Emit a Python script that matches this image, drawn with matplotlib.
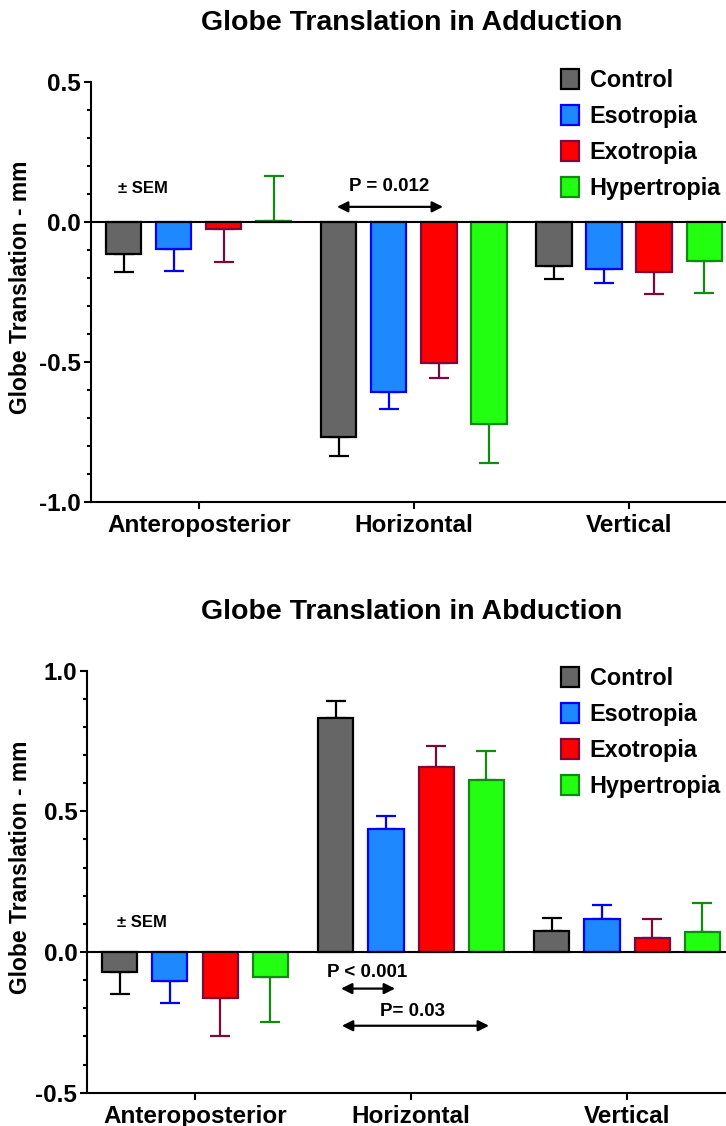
import matplotlib
matplotlib.use('Agg')
import matplotlib.pyplot as plt
from matplotlib.patches import Patch
import numpy as np

plt.rcParams['font.family'] = ['Liberation Sans', 'DejaVu Sans']
plt.rcParams['font.weight'] = 'bold'
plt.rcParams['axes.labelweight'] = 'bold'
plt.rcParams['axes.unicode_minus'] = False

# Data
categories = ['Anteroposterior', 'Horizontal', 'Vertical']
groups = ['Control', 'Esotropia', 'Exotropia', 'Hypertropia']

add_control = [-0.114, -0.767, -0.159]
add_eso = [-0.097, -0.607, -0.167]
add_exo = [-0.025, -0.504, -0.178]
add_hyper = [0.005, -0.723, -0.140]
add_control_sem = [0.065, 0.069, 0.044]
add_eso_sem = [0.078, 0.061, 0.050]
add_exo_sem = [0.118, 0.052, 0.079]
add_hyper_sem = [0.160, 0.138, 0.115]

abd_control = [-0.072, 0.831, 0.076]
abd_eso = [-0.104, 0.438, 0.118]
abd_exo = [-0.163, 0.657, 0.051]
abd_hyper = [-0.087, 0.613, 0.071]
abd_control_sem = [0.076, 0.062, 0.046]
abd_eso_sem = [0.077, 0.045, 0.050]
abd_exo_sem = [0.137, 0.076, 0.068]
abd_hyper_sem = [0.163, 0.102, 0.103]

face_colors = ['#666666', '#1e88ff', '#ff0000', '#22ff11']
edge_colors = ['#000000', '#0000ff', '#7a0a3c', '#118a11']

fig = plt.figure(figsize=(7.26, 11.26), dpi=100)
ax1 = fig.add_axes([0.1253, 0.5542, 0.8747, 0.3730])
ax2 = fig.add_axes([0.1198, 0.02957, 0.8802, 0.3748])

x = np.arange(len(categories))
step = 0.2326
width = 0.163


def draw_bars(ax, values, sems):
    for i, (vals, errs) in enumerate(zip(values, sems)):
        vals = np.array(vals)
        errs = np.array(errs)
        pos = x + (i - 1.5) * step
        lower = np.where(vals < 0, errs, 0)
        upper = np.where(vals >= 0, errs, 0)
        ax.errorbar(pos, vals, yerr=[lower, upper], fmt='none',
                    ecolor=edge_colors[i], elinewidth=1.6, capsize=7,
                    capthick=1.6, zorder=2)
        ax.bar(pos, vals, width=width, color=face_colors[i],
               edgecolor=edge_colors[i], linewidth=1.6, zorder=3)


def style_axes(ax, ylim, yticks):
    ax.set_ylim(*ylim)
    ax.set_yticks(yticks)
    ax.set_yticklabels([f'{t:.1f}' for t in yticks])
    ax.set_yticks(np.arange(ylim[0], ylim[1] + 0.001, 0.1), minor=True)
    ax.set_xticks(x)
    ax.set_xticklabels(categories)
    ax.tick_params(axis='both', which='major', labelsize=17.5, width=1.5,
                   length=5, direction='out')
    ax.tick_params(axis='y', which='major', pad=2)
    ax.tick_params(axis='x', which='major', pad=4)
    ax.tick_params(axis='y', which='minor', width=1.5, length=3)
    ax.spines['top'].set_visible(False)
    ax.spines['right'].set_visible(False)
    ax.spines['left'].set_linewidth(1.5)
    ax.spines['bottom'].set_linewidth(1.5)
    ax.axhline(0, color='black', lw=1.5, zorder=4)


def add_legend(anchor):
    handles = [Patch(facecolor=face_colors[i], edgecolor=edge_colors[i],
                     linewidth=1.6, label=groups[i]) for i in range(4)]
    fig.legend(handles=handles, loc='upper left', bbox_to_anchor=anchor,
               frameon=False, fontsize=16.8, borderpad=0, borderaxespad=0,
               handlelength=0.78, handleheight=0.95, handletextpad=0.45,
               labelspacing=0.55)


def arrow(ax, x0, x1, y):
    ax.annotate('', xy=(x0, y), xytext=(x1, y),
                arrowprops=dict(arrowstyle='<|-|>', color='black', lw=1.6,
                                mutation_scale=16, shrinkA=0, shrinkB=0))


# Top: adduction
draw_bars(ax1, [add_control, add_eso, add_exo, add_hyper],
          [add_control_sem, add_eso_sem, add_exo_sem, add_hyper_sem])
style_axes(ax1, (-1.0, 0.5), [-1.0, -0.5, 0.0, 0.5])
ax1.set_xlim(-0.502, 2.451)
ax1.set_ylabel('Globe Translation - mm', fontsize=16.5)
ax1.yaxis.set_label_coords(-0.093, 0.511)
ax1.text(-0.26, 0.121, '± SEM', fontsize=12, ha='center', va='center')
ax1.text(0.885, 0.125, 'P = 0.012', fontsize=13.5, ha='center', va='center')
arrow(ax1, 0.642, 1.135, 0.054)
fig.text(412 / 726, 1 - 23 / 1126, 'Globe Translation in Adduction',
         fontsize=20.5, ha='center', va='center')
add_legend((561 / 726, 1 - 69 / 1126))

# Bottom: abduction
draw_bars(ax2, [abd_control, abd_eso, abd_exo, abd_hyper],
          [abd_control_sem, abd_eso_sem, abd_exo_sem, abd_hyper_sem])
style_axes(ax2, (-0.5, 1.0), [-0.5, 0.0, 0.5, 1.0])
ax2.set_xlim(-0.5, 2.458)
ax2.set_ylabel('Globe Translation - mm', fontsize=16.5)
ax2.yaxis.set_label_coords(-0.086, 0.534)
ax2.text(-0.245, 0.105, '± SEM', fontsize=12, ha='center', va='center')
ax2.text(0.796, -0.074, 'P < 0.001', fontsize=13.5, ha='center', va='center')
arrow(ax2, 0.676, 0.926, -0.130)
ax2.text(1.009, -0.211, 'P= 0.03', fontsize=13.5, ha='center', va='center')
arrow(ax2, 0.68, 1.361, -0.262)
fig.text(412 / 726, 1 - 612 / 1126, 'Globe Translation in Abduction',
         fontsize=20.5, ha='center', va='center')
add_legend((561 / 726, 1 - 667 / 1126))

fig.savefig('out.png', dpi=100)
